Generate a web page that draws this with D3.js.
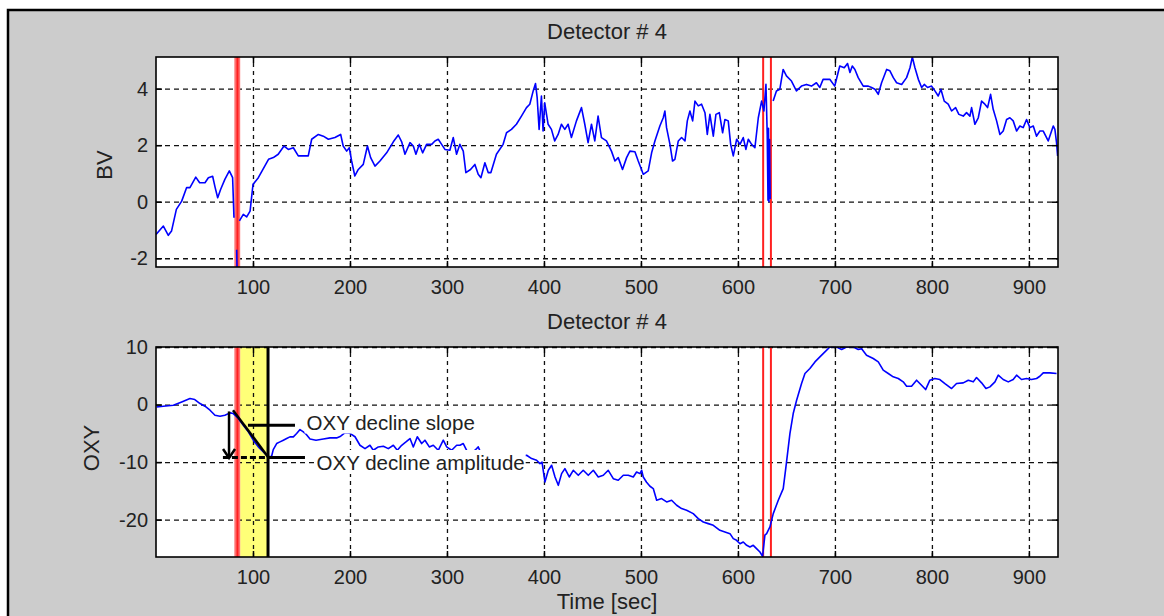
<!DOCTYPE html>
<html>
<head>
<meta charset="utf-8">
<script src="https://d3js.org/d3.v7.min.js"></script>
<style>
  body { margin: 0; background: #fff; }
  text { font-family: "Liberation Sans", Arial, sans-serif; fill: #222; }
</style>
</head>
<body>
<svg id="MAINSVG" width="1164" height="616"></svg>

<script>
// ---- data ----
var timeTicks = [100, 200, 300, 400, 500, 600, 700, 800, 900];
var bvTicks = [-2, 0, 2, 4];
var oxyTicks = [-20, -10, 0, 10];

// blood volume, top panel  [time, value]  (null = gap in the record)
var bvSeries = [[0,-1.16],[7.6,-0.86],[12.7,-1.19],[16,-1.04],[21,-0.27],[26.5,0.02],[31.6,0.5],[35,0.5],[41,0.87],[45,0.67],[50.5,0.67],[54,0.85],[58.4,0.9],[61,0.5],[63.6,0.14],[66.7,0.44],[71,0.79],[75.6,1.09],[79,0.85],[80.4,-0.57],[81,null],[83.2,-1.7],[83.6,-2.5],[84,null],[86,-0.68],[90,-0.45],[93.5,-0.54],[97,-0.33],[100,0.61],[105.5,0.85],[116,1.5],[121,1.56],[126,1.68],[132,1.97],[136.4,1.85],[141.6,1.91],[146.7,1.62],[157,1.62],[160.5,2.21],[167.4,2.38],[172.5,2.32],[177.7,2.21],[184.5,2.27],[190.4,2.38],[193,1.97],[196.6,1.79],[199.3,1.91],[201.7,1.44],[205,0.91],[208.6,1.14],[213.7,1.32],[218,1.97],[221.3,1.56],[225.8,1.26],[230.9,1.44],[237.8,1.73],[244.7,2.12],[249.8,2.36],[253.3,2.12],[256.7,1.68],[261.9,2.09],[265.3,1.97],[268,1.68],[271.5,2.03],[274.9,1.73],[279,2.03],[284.2,2.03],[287.6,2.15],[291,2.21],[294.5,2.03],[297.9,1.85],[303,1.82],[306.5,2.27],[309.9,1.68],[313.3,2.03],[316.8,1.79],[319.5,1.03],[324.3,1.14],[328.8,1.32],[332.2,0.97],[335,0.85],[339.1,1.38],[342.5,1.03],[345.3,1.03],[351,1.68],[357.9,2.03],[361.4,2.44],[366.5,2.56],[371.6,2.74],[376.8,3.03],[382,3.33],[385.4,3.45],[388.9,3.92],[391.3,4.18],[393,3.68],[395,2.56],[397.4,3.74],[399.1,2.5],[400.8,3.5],[404.3,2.74],[407.7,2.56],[411.1,2.15],[414.6,2.38],[418,2.74],[421.5,2.56],[424.9,2.74],[428.3,2.27],[433.5,2.86],[438.7,3.33],[442.1,2.74],[445.5,2.09],[449,2.74],[452.4,2.15],[455.8,3.03],[459.3,2.27],[464.4,2.15],[469.6,1.79],[473.2,1.44],[476.6,1.56],[481,1.14],[485.2,1.56],[488.6,1.79],[493.8,1.77],[497.2,1.44],[502.4,0.97],[507.5,1.09],[511,1.73],[514.4,2.15],[519.5,2.68],[523,2.97],[524.7,3.21],[526.4,2.62],[529.9,2.03],[532.6,1.44],[535,1.5],[538.5,2.15],[541.9,2.27],[545.4,2.15],[547.8,2.86],[550.5,3.21],[553.3,2.86],[555.7,3.56],[559.1,3.39],[562.5,3.45],[566,3.15],[568.4,2.38],[571.1,3.09],[574.6,2.32],[577.3,3.09],[580.8,3.15],[584.2,2.44],[586.6,2.91],[590,2.86],[592.5,2.03],[595.2,1.62],[598.7,2.21],[602.1,2.03],[605.5,2.27],[608.2,1.85],[610.7,2.21],[614.1,2.03],[617.5,1.91],[621,2.97],[624.4,3.56],[626.8,3.21],[628.9,4.15],[630.2,2.38],[631,0.05],[631.5,2.6],[632,0.0],[632.6,2.2],[633.2,0.1],[634,null],[636.3,3.56],[639.7,3.92],[643.2,3.98],[646.6,4.68],[650,4.45],[655.2,4.27],[660.3,3.92],[665.5,4.09],[670.6,4.15],[675.8,4.09],[680.9,4.21],[684.4,4.04],[687.8,4.33],[694.7,4.33],[699.8,4.09],[703.3,4.57],[705,4.8],[709.6,4.74],[713,4.89],[715.5,4.57],[717.9,4.8],[720.6,4.68],[724,4.39],[729.2,4.09],[734.4,4.09],[737.8,4.04],[741.3,3.98],[744.7,3.8],[748.1,4.21],[753.3,4.68],[756.7,4.63],[760.2,4.39],[763.6,4.21],[768.8,4.15],[773.9,4.39],[777.4,4.74],[779.8,5.12],[782.5,4.74],[786,4.33],[789.4,4.04],[792.1,4.15],[795.5,4.04],[799.7,4.09],[803.1,3.92],[806.5,3.74],[809.3,3.98],[812.7,3.56],[816.8,3.45],[820.3,3.21],[824.4,3.33],[827.8,3.09],[832.3,3.03],[835.7,3.15],[839.2,3.03],[840.9,3.33],[844.3,2.74],[847.8,2.97],[851.2,3.56],[854.6,3.45],[857.4,3.33],[860.5,3.8],[863.2,3.27],[866.7,2.86],[870.1,2.38],[873.5,2.5],[877,2.91],[880.4,2.97],[883.8,2.86],[887.3,2.5],[890.7,2.68],[894.1,2.62],[897.6,2.91],[901,2.62],[904.5,2.68],[907.9,2.32],[911.3,2.5],[914.8,2.5],[919.9,2.15],[925.1,2.68],[926.8,2.56],[928.5,2.09],[929.6,1.62]];

// oxygenation, bottom panel  [time, value]
var oxySeries = [[0.7,-0.4],[7.6,-0.3],[17.9,-0.12],[26.5,0.46],[35,1.04],[40,0.87],[45.4,0.17],[50.5,-0.29],[55.7,-0.99],[60.8,-1.86],[66,-2.03],[71,-1.86],[76.3,-1.45],[79.7,-1.57],[84.9,-2.43],[90,-3.59],[95.2,-4.75],[100.3,-6.2],[105.5,-7.36],[110.7,-8.23],[115.8,-9.1],[119.2,-9.0],[120.9,-7.83],[124.4,-6.78],[127.8,-6.49],[131.3,-6.2],[134.7,-5.91],[138.1,-5.62],[141.6,-5.62],[145,-5.04],[148.5,-4.35],[151.9,-4.75],[155,-5.2],[158.8,-6.0],[165,-6.2],[172.5,-6.0],[179.4,-5.8],[186.2,-5.8],[190.4,-5.5],[195,-4.9],[200,-5.0],[205.2,-5.6],[210.3,-7.08],[215.5,-7.66],[220.6,-7.08],[224,-7.95],[229.2,-7.37],[234.4,-7.25],[239.5,-7.66],[244.7,-7.08],[248.8,-7.95],[253.3,-7.08],[257.7,-6.5],[261.9,-5.91],[265.3,-7.37],[269.4,-5.6],[273.9,-6.78],[277.3,-6.2],[281.8,-7.37],[285.9,-7.08],[291,-7.95],[296.2,-6.2],[299.7,-7.37],[304.8,-7.95],[310,-7.08],[313.4,-7.08],[316.8,-6.78],[320.3,-7.95],[324,-8.5],[328.9,-7.95],[332.3,-7.37],[334,-8.06],[340,-8.8],[348,-9.2],[356,-8.9],[364,-9.3],[372,-9.0],[378,-8.9],[382.1,-8.82],[387.3,-9.4],[392.4,-9.69],[395.9,-10.27],[398,-10.0],[401,-13.46],[404.5,-11.43],[407.9,-10.56],[411.4,-12.59],[414.8,-14.04],[418.2,-12.01],[421.6,-11.14],[426.1,-12.59],[430.2,-11.43],[435.4,-12.3],[440.5,-11.43],[445.7,-12.3],[450.9,-11.43],[456,-12.59],[461.2,-12.3],[466.3,-11.43],[471.5,-12.88],[476.6,-13.17],[481.8,-12.3],[486.9,-12.3],[492.1,-12.59],[495.5,-11.72],[499,-12.01],[500.7,-11.43],[502.4,-12.59],[505.8,-13.5],[509.3,-14.2],[512.7,-14.6],[516.2,-16.64],[521.3,-16.35],[526.5,-16.93],[531.6,-16.64],[536.8,-17.51],[541.9,-18.09],[547.1,-18.38],[553.9,-18.96],[559.1,-19.83],[564.3,-20.41],[569.4,-20.7],[574.6,-20.99],[581.4,-21.86],[586.6,-22.15],[591.8,-22.44],[595.2,-23.3],[598.6,-23.6],[602.1,-24.2],[605.5,-23.9],[609,-24.47],[612.4,-24.76],[615.8,-24.47],[619.2,-25.05],[622.7,-25.63],[625.4,-26.4],[627.8,-22.7],[629.6,-22.44],[631.2,-21.86],[633,-21.28],[636.4,-18.96],[641.6,-16.64],[646.7,-14.61],[649.5,-10.85],[653.6,-5.04],[657,-1.57],[660.5,0.75],[665.6,3.65],[669.1,5.39],[674.2,6.26],[679.4,7.41],[684.5,8.28],[689.7,9.15],[694.8,10.0],[701.7,10.0],[706.9,9.56],[712,10.0],[718.9,10.0],[724.1,9.56],[727.5,9.7],[732.6,8.57],[739.5,8.0],[744.7,7.41],[749.8,5.97],[755,5.39],[760.1,4.81],[765.3,4.52],[770.4,3.94],[773.9,3.19],[779,3.19],[784.2,4.23],[789.3,3.36],[793.5,2.6],[797.9,4.23],[803,4.52],[808.2,4.35],[813.4,3.65],[820.3,2.78],[825.4,3.65],[832.3,3.77],[837.5,4.23],[842.6,3.94],[846,4.69],[851.2,3.77],[855.7,2.78],[859.8,3.07],[865,3.94],[868.4,5.1],[873.5,4.35],[878.7,3.94],[883.8,4.35],[887.3,5.1],[892.4,4.35],[897.6,4.52],[902.7,4.35],[907.9,4.52],[911.3,4.92],[914.8,5.51],[921.6,5.51],[928.5,5.39]];

// event markers (seconds)
var onsetBand = [80.8, 86.8];
var eventLines = [84, 626, 634];
var analysisWindow = [86.8, 115.5];

// annotation geometry, in data units of the OXY panel
var slopeSegment = [[79.4, -0.99], [115.5, -9.1]];
var slopePointer = [[94.8, -3.6], [143.3, -3.6]];
var ampArrow = [[75.3, -1.2], [75.3, -9.3]];
var ampDashed = [[69, -9.2], [115.5, -9.2]];
var ampSolid = [[115.5, -9.2], [153.6, -9.2]];
var labels = ["OXY decline slope", "OXY decline amplitude"];

// ---- layout ----
var SVG = d3.select("#MAINSVG");
var left_x = 156, right_x = 1058;

SVG.append("rect").attr("x", 8).attr("y", 10).attr("width", 1200).attr("height", 700)
   .attr("fill", "#cccccc").attr("stroke", "#000").attr("stroke-width", 2.5);

function plainNum(d) { return String(d); }  // keep the ASCII hyphen for negatives

function drawPanel(id, top_y, bottom_y, ydomain, yticks, ylabel, series) {
  var x = d3.scaleLinear().domain([0, 930]).range([left_x, right_x]);
  var y = d3.scaleLinear().domain(ydomain).range([bottom_y, top_y]);
  var w = right_x - left_x, h = bottom_y - top_y;

  SVG.append("clipPath").attr("id", "clip" + id)
     .append("rect").attr("x", left_x).attr("y", top_y).attr("width", w).attr("height", h);

  SVG.append("rect").attr("x", left_x).attr("y", top_y).attr("width", w).attr("height", h)
     .attr("fill", "#fff");

  var g = SVG.append("g").attr("clip-path", "url(#clip" + id + ")");
  var p = { x: x, y: y, g: g, top: top_y, bottom: bottom_y };

  // yellow analysis window goes under the grid
  if (id == "oxy") {
    g.append("rect").attr("x", x(analysisWindow[0])).attr("y", top_y)
     .attr("width", x(analysisWindow[1]) - x(analysisWindow[0])).attr("height", h)
     .attr("fill", "#ffff78");
  }

  // grid
  var gx = SVG.append("g").attr("transform", "translate(0," + bottom_y + ")")
     .call(d3.axisBottom(x).tickValues(timeTicks).tickSize(-h).tickFormat(""));
  gx.select(".domain").remove();
  gx.selectAll("line").attr("stroke", "#111").attr("stroke-width", 1.3).attr("stroke-dasharray", "4,4");
  var gy = SVG.append("g").attr("transform", "translate(" + left_x + ",0)")
     .call(d3.axisLeft(y).tickValues(yticks).tickSize(-w).tickFormat(""));
  gy.select(".domain").remove();
  gy.selectAll("line").attr("stroke", "#111").attr("stroke-width", 1.3).attr("stroke-dasharray", "5,4");

  // event markers
  SVG.append("rect").attr("x", x(onsetBand[0])).attr("y", top_y)
     .attr("width", x(onsetBand[1]) - x(onsetBand[0])).attr("height", h)
     .attr("fill", "#ff7070");
  eventLines.forEach(function(t) {
    SVG.append("line").attr("x1", x(t)).attr("x2", x(t)).attr("y1", top_y).attr("y2", bottom_y)
       .attr("stroke", "#ff2020").attr("stroke-width", 2);
  });

  var line = d3.line().defined(function(d) { return d[1] != null; })
     .x(function(d) { return x(d[0]); }).y(function(d) { return y(d[1]); });
  var lg = SVG.append("g").attr("clip-path", "url(#clip" + id + ")");
  lg.append("path").datum(series).attr("d", line)
    .attr("fill", "none").attr("stroke", "#0000ff").attr("stroke-width", 1.6)
    .attr("stroke-linejoin", "round");

  // ticks + labels
  var ax = SVG.append("g").attr("transform", "translate(0," + bottom_y + ")")
     .call(d3.axisBottom(x).tickValues(timeTicks).tickSize(-6).tickSizeOuter(0).tickPadding(13).tickFormat(plainNum));
  var ay = SVG.append("g").attr("transform", "translate(" + left_x + ",0)")
     .call(d3.axisLeft(y).tickValues(yticks).tickSize(-6).tickSizeOuter(0).tickPadding(8).tickFormat(plainNum));
  var at = SVG.append("g").attr("transform", "translate(0," + top_y + ")")
     .call(d3.axisTop(x).tickValues(timeTicks).tickSize(-6).tickSizeOuter(0).tickFormat(""));
  var ar = SVG.append("g").attr("transform", "translate(" + right_x + ",0)")
     .call(d3.axisRight(y).tickValues(yticks).tickSize(-6).tickSizeOuter(0).tickFormat(""));
  [ax, ay, at, ar].forEach(function(a) {
    a.select(".domain").remove();
    a.selectAll("line").attr("stroke", "#000").attr("stroke-width", 1.5);
    a.selectAll("text").style("font-size", "20px").attr("fill", "#222")
     .style("font-family", "'Liberation Sans', Arial, sans-serif");
  });

  SVG.append("rect").attr("x", left_x).attr("y", top_y).attr("width", w).attr("height", h)
     .attr("fill", "none").attr("stroke", "#000").attr("stroke-width", 1.6);

  SVG.append("text").attr("x", (left_x + right_x) / 2).attr("y", top_y - 18)
     .attr("text-anchor", "middle").style("font-size", "22px").text("Detector # 4");

  SVG.append("text").attr("transform", "translate(" + (id == "bv" ? 112 : 99) + "," + (id == "bv" ? 165 : 448) + ") rotate(-90)")
     .attr("text-anchor", "middle").style("font-size", "22px").text(ylabel);

  return p;
}

drawPanel("bv", 57, 267, [-2.31, 5.12], bvTicks, "BV", bvSeries);
var P = drawPanel("oxy", 347, 557, [-26.5, 10], oxyTicks, "OXY", oxySeries);

SVG.append("text").attr("x", (left_x + right_x) / 2).attr("y", 609)
   .attr("text-anchor", "middle").style("font-size", "22px").text("Time [sec]");

// ---- annotations in the OXY panel ----
var seg = d3.line().x(function(d) { return P.x(d[0]); }).y(function(d) { return P.y(d[1]); });

SVG.append("line").attr("x1", P.x(analysisWindow[1])).attr("x2", P.x(analysisWindow[1]))
   .attr("y1", P.top).attr("y2", P.bottom).attr("stroke", "#000").attr("stroke-width", 3);

function addLabel(txt, tx, ty) {
  var t = SVG.append("text").attr("x", tx).attr("y", ty).style("font-size", "20.5px").text(txt);
  var b = t.node().getBBox();
  SVG.insert("rect", function() { return t.node(); })
     .attr("x", b.x - 2).attr("y", b.y - 1).attr("width", b.width + 3).attr("height", b.height + 1)
     .attr("fill", "#fff");
}
addLabel(labels[0], P.x(155.2), 429.5);
addLabel(labels[1], P.x(165.5), 470);

SVG.append("path").attr("d", seg(slopeSegment)).attr("stroke", "#000").attr("stroke-width", 2.5).attr("fill", "none");
SVG.append("path").attr("d", seg(slopePointer)).attr("stroke", "#000").attr("stroke-width", 3).attr("fill", "none");
SVG.append("path").attr("d", seg(ampDashed)).attr("stroke", "#000").attr("stroke-width", 3)
   .attr("stroke-dasharray", "6,3").attr("fill", "none");
SVG.append("path").attr("d", seg(ampSolid)).attr("stroke", "#000").attr("stroke-width", 3).attr("fill", "none");
SVG.append("path").attr("d", seg(ampArrow)).attr("stroke", "#000").attr("stroke-width", 2.5).attr("fill", "none");

var tip = [P.x(ampArrow[1][0]), P.y(ampArrow[1][1])];
SVG.append("path")
   .attr("d", "M" + (tip[0] - 6) + "," + (tip[1] - 9) + "L" + tip[0] + "," + tip[1] + "L" + (tip[0] + 6) + "," + (tip[1] - 9))
   .attr("stroke", "#000").attr("stroke-width", 2.5).attr("fill", "none");
</script>
</body>
</html>
